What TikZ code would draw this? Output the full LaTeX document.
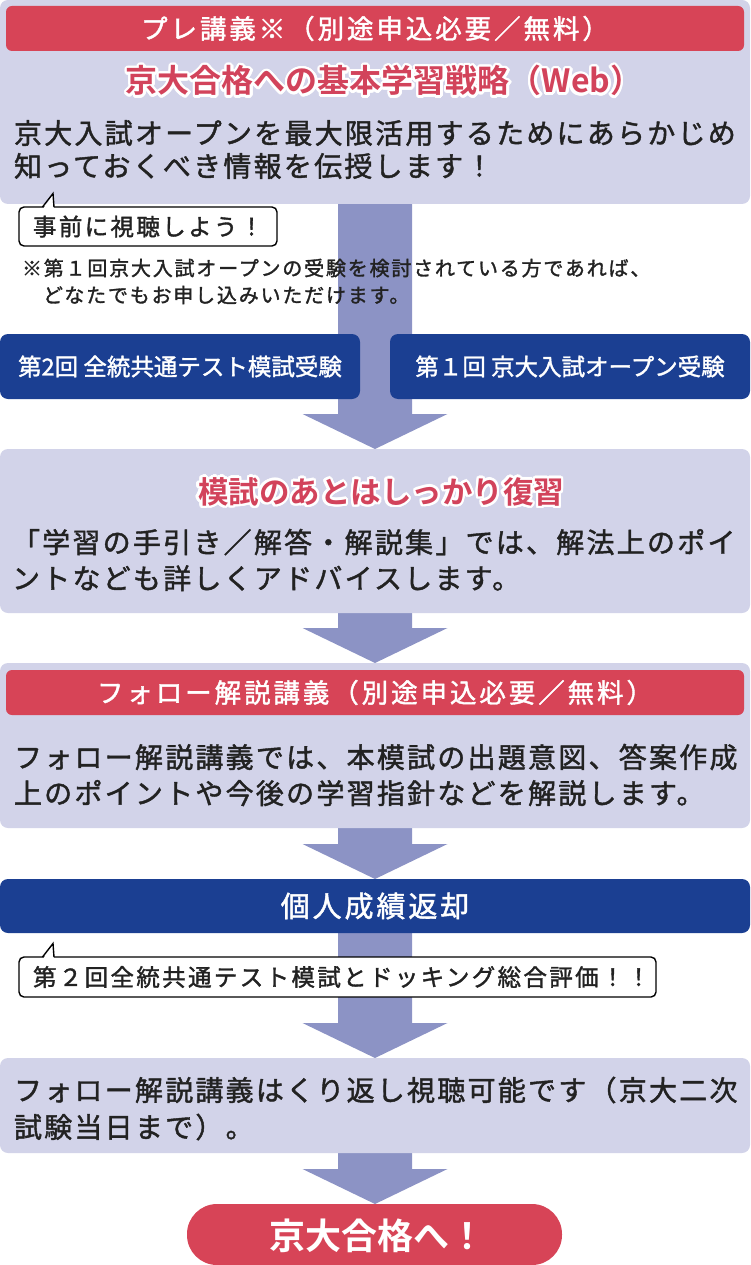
\documentclass[tikz,border=0pt]{standalone}
\usepackage{fontspec}
\usepackage{contour}
\usetikzlibrary{calc}
\newfontfamily\jp{Noto Sans CJK JP}[FakeBold=1.5]
\newfontfamily\jpbody{Noto Sans CJK JP}[LetterSpace=8,FakeBold=1.5]
\newfontfamily\jphead{Noto Sans CJK JP}[LetterSpace=11,FakeBold=1.5]
\newfontfamily\jpnote{Noto Sans CJK JP}[LetterSpace=9,FakeBold=1.5]
\newfontfamily\jpcall{Noto Sans CJK JP}[LetterSpace=10,FakeBold=1.5]
\newfontfamily\jpbar{Noto Sans CJK JP}[LetterSpace=10,FakeBold=1.5]
\newfontfamily\jptitle{Noto Sans CJK JP Bold}
\definecolor{lav}{HTML}{D2D3E9}
\definecolor{arrowc}{HTML}{8C93C5}
\definecolor{redc}{HTML}{D74457}
\definecolor{bluec}{HTML}{1B3F92}
\definecolor{titlered}{HTML}{D2435B}
\definecolor{textc}{HTML}{222222}
\contourlength{2.4pt}
\contournumber{24}
\newcommand\blockarrow[2]{%
  \fill[arrowc] let \p1=(#1.south), \p2=(#2.north) in
    (\x1-37pt,\y1) -- (\x1+37pt,\y1) -- (\x1+37pt,\y2+35pt) -- (\x1+72.5pt,\y2+35pt)
    -- (\x1,\y2) -- (\x1-72.5pt,\y2+35pt) -- (\x1-37pt,\y2+35pt) -- cycle;}
\tikzset{
  redbar/.style={fill=redc, rounded corners=6pt, anchor=north west, text=white,
    font=\jphead\fontsize{26.5}{30}\selectfont},
  bluebox/.style={fill=bluec, rounded corners=8pt, anchor=north west, text=white,
    font=\jp\fontsize{23.5}{28}\selectfont},
  bodytext/.style={anchor=west, align=left, text=textc},
  titletext/.style={text=titlered},
  callbox/.style={fill=white, draw=black, line width=1.4pt, rounded corners=5pt,
    anchor=north west},
  calltext/.style={anchor=west, text=textc, font=\jpcall\fontsize{23.5}{27}\selectfont}
}
\begin{document}
\begin{tikzpicture}[x=1pt,y=-1pt, every node/.style={inner sep=0pt, outer sep=0pt}]
\useasboundingbox (0,0) rectangle (750,1265);
% box frames (named, filled after the arrows)
\path
  node[minimum width=750pt, minimum height=204pt, anchor=north west] (box1) at (0,0) {}
  node[minimum width=750pt, minimum height=164pt, anchor=north west] (box2) at (0,449) {}
  node[minimum width=750pt, minimum height=165pt, anchor=north west] (box3) at (0,663) {}
  node[minimum width=750pt, minimum height=54pt, anchor=north west] (bar) at (0,879) {}
  node[minimum width=750pt, minimum height=95pt, anchor=north west] (box4) at (0,1058) {}
  node[minimum width=375pt, minimum height=61pt, anchor=north west] (final) at (187,1204) {};
% arrows
\blockarrow{box1}{box2}
\blockarrow{box2}{box3}
\blockarrow{box3}{bar}
\blockarrow{bar}{box4}
\blockarrow{box4}{final}
% box 1
\fill[lav, rounded corners=8pt] (box1.north west) rectangle (box1.south east);
\node[redbar, minimum width=738pt, minimum height=45pt] (hdr1) at (6,6) {プレ講義※（別途申込必要／無料）};
\node[titletext, font=\jptitle\fontsize{32}{36}\selectfont] (title1) at (384,82) {\contour{white}{京大合格への基本学習戦略（Web）}};
\node[bodytext, font=\jpbody\fontsize{28}{33}\selectfont] (body1) at (14,149.5)
  {京大入試オープンを最大限活用するためにあらかじめ\\知っておくべき情報を伝授します！};
% callout 1
\node[callbox, minimum width=258pt, minimum height=39pt] (call1) at (19,207) {};
\node[calltext] (call1text) at ([xshift=14pt]call1.west) {事前に視聴しよう！};
\fill[white] (43.5,208.2) -- (53,195) -- (53.8,208.2) -- cycle;
\draw[line width=1.4pt, line join=miter] (42.5,207) -- (53,193.5) -- (54,207);
\node[bodytext, font=\jpnote\fontsize{20}{27}\selectfont] (note1) at (22,281.5)
  {※第１回京大入試オープンの受験を検討されている方であれば、\\\hspace{21pt}どなたでもお申し込みいただけます。};
% blue boxes
\node[bluebox, minimum width=360pt, minimum height=65pt] (blueL) at (0,334) {第2回 全統共通テスト模試受験};
\node[bluebox, minimum width=360pt, minimum height=65pt] (blueR) at (390,334) {第１回 京大入試オープン受験};
% box 2
\fill[lav, rounded corners=8pt] (box2.north west) rectangle (box2.south east);
\node[titletext, font=\jptitle\fontsize{30.5}{36}\selectfont] (title2) at (381,493) {\contour{white}{模試のあとはしっかり復習}};
\node[bodytext, font=\jpbody\fontsize{28}{36}\selectfont] (body2) at (12,560)
  {「学習の手引き／解答・解説集」では、解法上のポイ\\ントなども詳しくアドバイスします。};
% box 3
\fill[lav, rounded corners=8pt] (box3.north west) rectangle (box3.south east);
\node[redbar, minimum width=738pt, minimum height=45pt] (hdr3) at (6,670) {フォロー解説講義（別途申込必要／無料）};
\node[bodytext, font=\jpbody\fontsize{28}{36}\selectfont] (body3) at (14,775)
  {フォロー解説講義では、本模試の出題意図、答案作成\\上のポイントや今後の学習指針などを解説します。};
% bar
\fill[bluec, rounded corners=8pt] (bar.north west) rectangle (bar.south east);
\node[text=white, font=\jpbar\fontsize{29}{34}\selectfont] (bartext) at (bar.center) {個人成績返却};
% callout 2
\node[callbox, minimum width=637pt, minimum height=40pt] (call2) at (19,957) {};
\node[calltext] (call2text) at ([xshift=14pt]call2.west) {第２回全統共通テスト模試とドッキング総合評価！！};
\fill[white] (43.5,958.2) -- (53,945) -- (53.8,958.2) -- cycle;
\draw[line width=1.4pt, line join=miter] (42.5,957) -- (53,943.5) -- (54,957);
% box 4
\fill[lav, rounded corners=8pt] (box4.north west) rectangle (box4.south east);
\node[bodytext, font=\jpbody\fontsize{28}{37}\selectfont] (body4) at (14,1108.5)
  {フォロー解説講義はくり返し視聴可能です（京大二次\\試験当日まで）。};
% final
\fill[redc, rounded corners=30pt] (final.north west) rectangle (final.south east);
\node[text=white, font=\jptitle\fontsize{36}{40}\selectfont] (finaltext) at ([xshift=3pt,yshift=-1pt]final.center) {京大合格へ！};
\end{tikzpicture}
\end{document}
